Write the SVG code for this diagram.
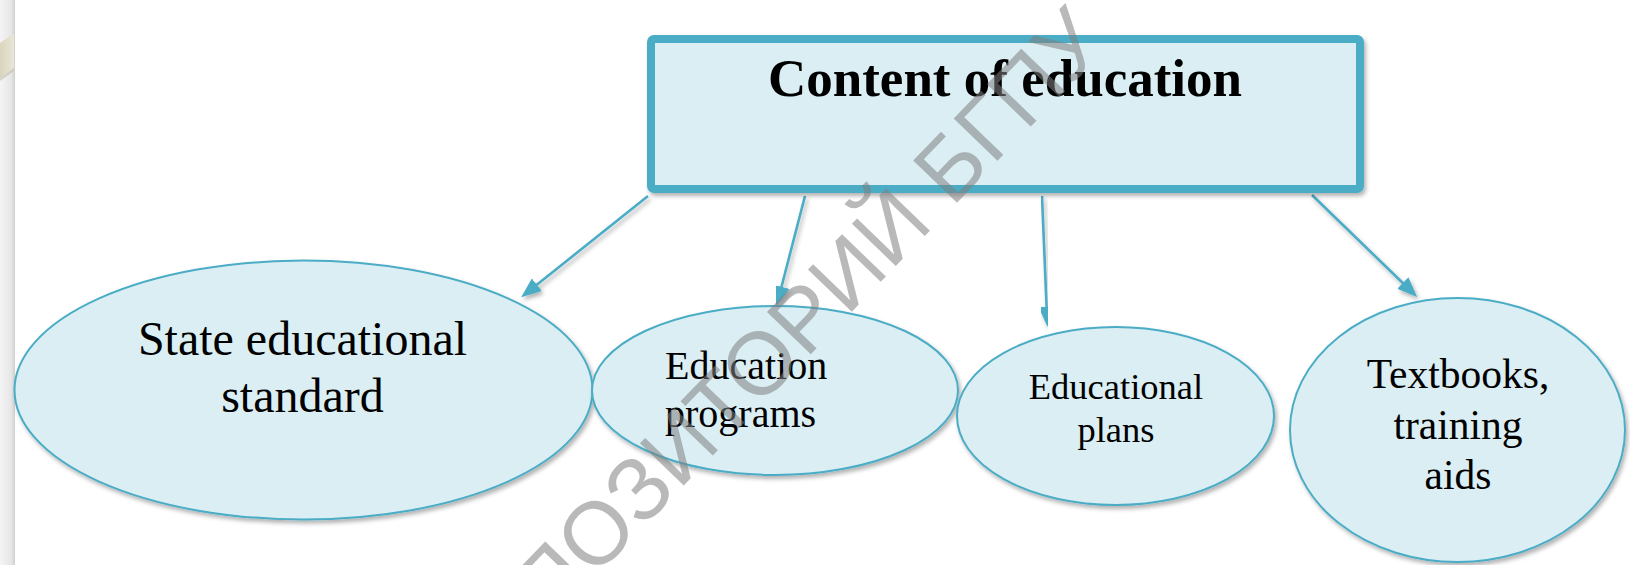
<svg xmlns="http://www.w3.org/2000/svg" width="1630" height="565" viewBox="0 0 1630 565">
<style>
.node-shape{fill:#DAEEF3;stroke:#4BACC6;stroke-width:2;filter:url(#shadow)}
.lbl{font-family:"Liberation Serif","Times New Roman",serif;fill:#000}
.conn{stroke:#4BACC6;stroke-width:2.6;fill:none;marker-end:url(#arrow);filter:url(#shadow)}
.wm{font-family:"Liberation Sans",Arial,sans-serif;font-size:88.5px;fill:#7f7f7f;fill-opacity:0.55}
</style>
<defs>
<filter id="shadow" x="-10%" y="-10%" width="130%" height="130%">
<feDropShadow dx="2" dy="3" stdDeviation="2" flood-color="#000" flood-opacity="0.3"/>
</filter>
<marker id="arrow" markerUnits="userSpaceOnUse" markerWidth="22" markerHeight="18" refX="10" refY="8" orient="auto">
<path d="M0,0 L20,8 L0,16 z" fill="#4BACC6"/>
</marker>
<linearGradient id="bar" x1="0" y1="0" x2="1" y2="0">
<stop offset="0" stop-color="#f4f4f4"/>
<stop offset="0.75" stop-color="#e6e6e6"/>
<stop offset="1" stop-color="#cfcfcf"/>
</linearGradient>
<linearGradient id="rib" x1="0" y1="0" x2="1" y2="0">
<stop offset="0" stop-color="#d9d5bd"/>
<stop offset="1" stop-color="#e9e6d6"/>
</linearGradient>
</defs>
<rect x="0" y="0" width="1630" height="565" fill="#fff"/>
<g id="decor">
<rect x="0" y="0" width="15" height="565" fill="url(#bar)"/>
<polygon points="0,43 14,33.5 14,68 0,78" fill="url(#rib)"/>
<polygon points="0,78 14,68 14,71 0,81" fill="#c2bfae" opacity="0.6"/>
</g>
<g id="connectors">
<line class="conn" x1="648" y1="196" x2="529" y2="291"/>
<line class="conn" x1="805" y1="196" x2="779" y2="296.5"/>
<line class="conn" x1="1042" y1="196" x2="1047" y2="316.7"/>
<line class="conn" x1="1312" y1="195" x2="1410" y2="290"/>
</g>
<g id="node-content">
<rect x="651" y="39" width="709" height="150" rx="3" fill="#DAEEF3" stroke="#4BACC6" stroke-width="8" filter="url(#shadow)"/>
<text class="lbl" x="1005" y="96" font-size="53" font-weight="bold" text-anchor="middle">Content of education</text>
</g>
<g id="node-standard">
<ellipse class="node-shape" cx="303.5" cy="390" rx="289" ry="129.5"/>
<text class="lbl" font-size="48" text-anchor="middle"><tspan x="302.5" y="355">State educational</tspan><tspan x="302.5" y="411.5">standard</tspan></text>
</g>
<g id="node-programs">
<ellipse class="node-shape" cx="775" cy="390.5" rx="183" ry="84.5"/>
<text class="lbl" font-size="40"><tspan x="665" y="379">Education</tspan><tspan x="665" y="426.5">programs</tspan></text>
</g>
<g id="node-plans">
<ellipse class="node-shape" cx="1115.5" cy="416" rx="158.5" ry="89"/>
<text class="lbl" font-size="36.5" text-anchor="middle"><tspan x="1116" y="399">Educational</tspan><tspan x="1116" y="441.5">plans</tspan></text>
</g>
<g id="node-textbooks">
<ellipse class="node-shape" cx="1457.5" cy="430" rx="167.5" ry="132"/>
<text class="lbl" font-size="41.5" text-anchor="middle"><tspan x="1458" y="388">Textbooks,</tspan><tspan x="1458" y="438.5">training</tspan><tspan x="1458" y="489">aids</tspan></text>
</g>
<g id="watermark">
<text class="wm" x="467.7" y="709.5" transform="rotate(-46 467.7 709.5)">РЕПОЗИТОРИЙ БГПУ</text>
</g>
</svg>
